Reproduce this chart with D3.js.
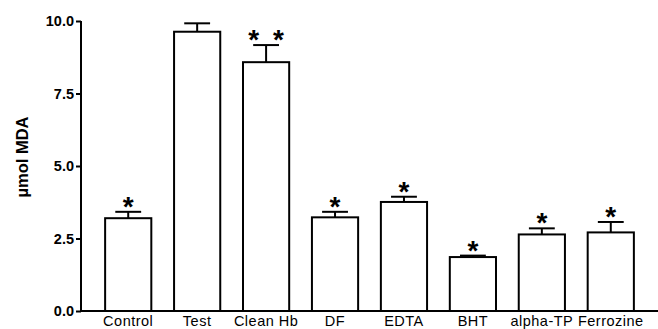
<!DOCTYPE html>
<html>
<head>
<meta charset="utf-8">
<script src="https://cdn.jsdelivr.net/npm/d3@7"></script>
<style>
  body { margin: 0; background: #fff; }
  svg { display: block; }
  .axis text { font-family: "Liberation Sans", Arial, sans-serif; fill: #000; }
</style>
</head>
<body>
<svg id="chart" width="658" height="329"></svg>
<script>
// data
var groups = ['Control', 'Test', 'Clean Hb', 'DF', 'EDTA', 'BHT', 'alpha-TP', 'Ferrozine'];
var means  = [3.20, 9.63, 8.58, 3.23, 3.76, 1.86, 2.64, 2.71];
var errors = [0.22, 0.29, 0.59, 0.19, 0.18, 0.05, 0.21, 0.36];
var marks  = ['*', '', '* *', '*', '*', '*', '*', '*'];
var yTicks = [0, 2.5, 5, 7.5, 10];

var width = 658, height = 329,
    margin = {top: 21, right: 0, bottom: 18, left: 81};

var svg = d3.select('#chart');
var chartHeight = height - margin.top - margin.bottom,
    chartWidth = width - margin.left - margin.right;

var x = d3.scaleBand()
  .domain(groups)
  .range([0, chartWidth])
  .paddingInner(0.33)
  .paddingOuter(0.35);

var y = d3.scaleLinear()
  .domain([0, 10])
  .range([chartHeight, 0]);

var chartG = svg.append('g')
  .attr('transform', 'translate(' + margin.left + ',' + margin.top + ')');

var data = groups.map(function(g, i) {
  return {name: g, mean: means[i], err: errors[i], mark: marks[i]};
});

// error bars (upper only)
var capW = x.bandwidth() * 0.56;
var eb = chartG.selectAll('.err').data(data).enter().append('g').attr('class', 'err');
eb.append('line')
  .attr('x1', function(d) { return x(d.name) + x.bandwidth() / 2; })
  .attr('x2', function(d) { return x(d.name) + x.bandwidth() / 2; })
  .attr('y1', function(d) { return y(d.mean); })
  .attr('y2', function(d) { return y(d.mean + d.err); })
  .attr('stroke', '#000').attr('stroke-width', 2);
eb.append('line')
  .attr('x1', function(d) { return x(d.name) + x.bandwidth() / 2 - capW / 2; })
  .attr('x2', function(d) { return x(d.name) + x.bandwidth() / 2 + capW / 2; })
  .attr('y1', function(d) { return y(d.mean + d.err); })
  .attr('y2', function(d) { return y(d.mean + d.err); })
  .attr('stroke', '#000').attr('stroke-width', 2);

// bars
chartG.selectAll('.bar').data(data).enter().append('rect')
  .attr('class', 'bar')
  .attr('x', function(d) { return x(d.name); })
  .attr('width', x.bandwidth())
  .attr('y', function(d) { return y(d.mean); })
  .attr('height', function(d) { return y(0) - y(d.mean); })
  .attr('fill', '#fff')
  .attr('stroke', '#000')
  .attr('stroke-width', 2);

// significance stars
chartG.selectAll('.star').data(data).enter().append('text')
  .attr('class', 'star')
  .attr('x', function(d) { return x(d.name) + x.bandwidth() / 2; })
  .attr('y', function(d) { return y(d.mean + d.err) + 4; })
  .attr('text-anchor', 'middle')
  .style('font-family', '"Liberation Sans", Arial, sans-serif')
  .style('font-weight', 'bold')
  .style('font-size', '28px')
  .style('white-space', 'pre')
  .text(function(d) { return d.mark.replace(' ', '\u2002'); });

// axes
var yAxis = d3.axisLeft(y).tickValues(yTicks).tickFormat(d3.format('.1f'))
  .tickSize(5).tickPadding(2);
var yG = chartG.append('g').attr('class', 'axis yAxis').call(yAxis);
yG.select('.domain').attr('stroke-width', 2).attr('d', 'M0,' + (chartHeight + 1) + 'V0');
yG.selectAll('.tick line').attr('stroke-width', 2);
yG.selectAll('.tick text').style('font-size', '14.5px').style('font-weight', 'bold');

var xAxis = d3.axisBottom(x).tickSize(0).tickPadding(5);
var xG = chartG.append('g').attr('class', 'axis xAxis')
  .attr('transform', 'translate(0,' + chartHeight + ')')
  .call(xAxis);
xG.select('.domain').attr('stroke-width', 2).attr('d', 'M-1,0H' + chartWidth);
xG.selectAll('.tick text').style('font-size', '14.5px').style('letter-spacing', '0.5px');

// y axis title
svg.append('text')
  .attr('transform', 'translate(28,' + 157 + ') rotate(-90)')
  .attr('text-anchor', 'middle')
  .style('font-family', '"Liberation Sans", Arial, sans-serif')
  .style('font-size', '16.5px')
  .style('font-weight', 'bold')
  .text('\u00b5mol MDA');
</script>
</body>
</html>
